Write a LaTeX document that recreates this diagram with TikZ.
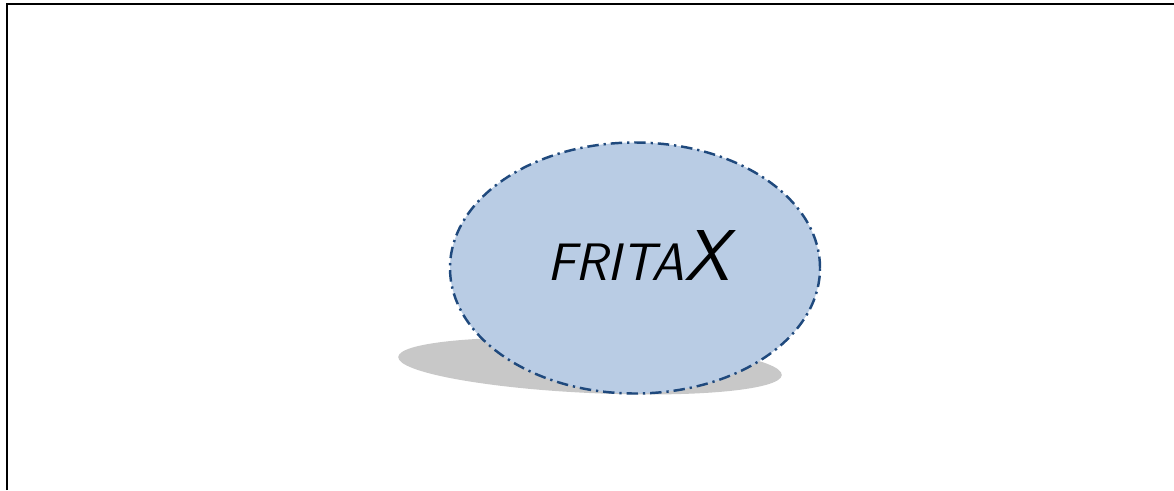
\documentclass[tikz,border=0pt]{standalone}
\usepackage{tikz}
\usepackage{xcolor}
\usetikzlibrary{shapes.geometric}

\definecolor{relleno}{HTML}{B9CCE4}
\definecolor{borde}{HTML}{1F497D}
\definecolor{gris}{HTML}{C8C8C8}

\begin{document}
\begin{tikzpicture}[
			 elipse/.style={ellipse, draw=borde, fill=relleno, line width=1.4pt,
			 	dash pattern=on 6.5pt off 2.8pt on 1.3pt off 2.8pt,
			 	minimum width=7.4cm, minimum height=5.02cm, inner sep=0pt},
			 sombra/.style={fill=gris}
  		]
	\useasboundingbox (0,0) rectangle (23.48,9.8);

	%Marco
		\draw[line width=1.3pt] (0.14,0) -- (0.14,9.72) -- (23.48,9.72);

	%Sombra
		\fill[sombra, rotate around={-2.7:(11.8,2.48)}] (11.8,2.48) ellipse (3.84cm and 0.54cm);

	%Elipse con el nombre
		\node[elipse] (frita) at (12.7,4.44) {};
		\node (nombre) at (12.77,4.7) {\sffamily\itshape{\fontsize{30}{32}\selectfont FRITA}{\fontsize{41}{44}\selectfont X}};
	\end{tikzpicture}
\end{document}
